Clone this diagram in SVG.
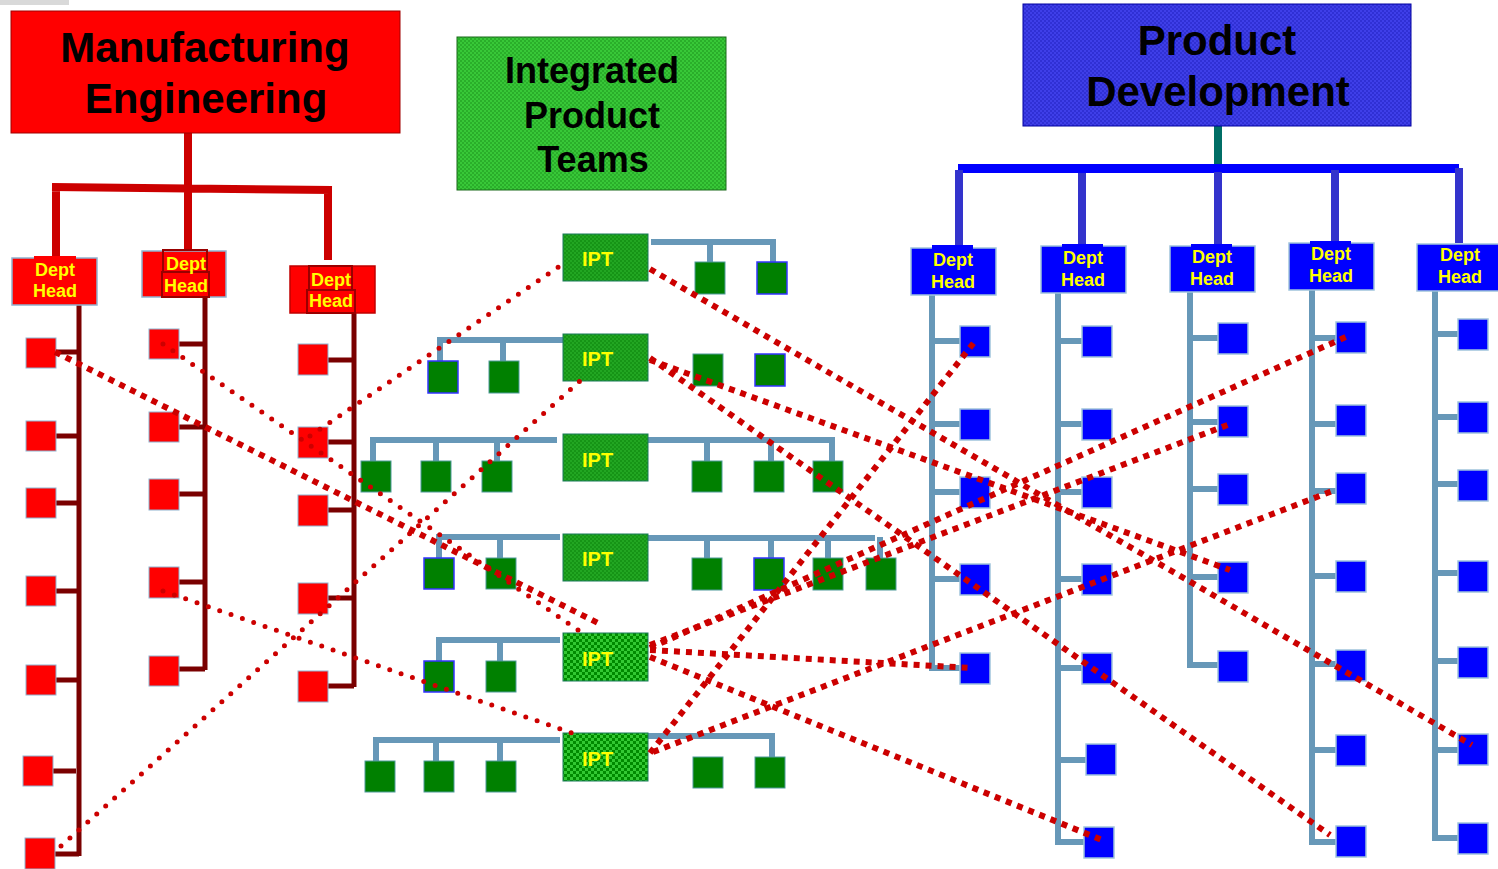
<svg xmlns="http://www.w3.org/2000/svg" width="1498" height="869" viewBox="0 0 1498 869">
  <defs>
    <style>
      text { font-family: "Liberation Sans", Arial, sans-serif; font-weight: bold; }
      .title { font-size: 42px; fill: #000; text-anchor: middle; }
      .title2 { font-size: 36px; fill: #000; text-anchor: middle; }
      .dh { font-size: 18px; fill: #ffff00; text-anchor: middle; }
      .ipt-t { font-size: 20px; fill: #ffff00; }
      .me-link { stroke: #cc0000; stroke-width: 8; fill: none; }
      .red-tree { stroke: #7a0000; stroke-width: 5; fill: none; }
      .steel { stroke: #6798b8; stroke-width: 6; fill: none; }
      .pd-link { stroke: #3333cc; stroke-width: 8; fill: none; }
      .dotR { stroke: #cc0000; stroke-width: 5; stroke-linecap: round; stroke-dasharray: 0 12; fill: none; }
      .dotS { stroke: #cc0000; stroke-width: 6; stroke-dasharray: 6 6; fill: none; }
      .rbox { fill: #ff0000; stroke: #8fb3d0; stroke-width: 1; }
      .rdh { fill: #ff0000; stroke: #8fb3d0; stroke-width: 1.5; }
      .rin { fill: none; stroke: #990000; stroke-width: 2; }
      .gbox { fill: #008000; stroke: #4f9a9a; stroke-width: 1; }
      .gbox.b { stroke: #3333ff; stroke-width: 1.5; }
      .bbox { fill: #0000ff; stroke: #a0c4dc; stroke-width: 1.5; }
      .bdh { fill: #0000ff; stroke: #a0c4dc; stroke-width: 1.5; }
      .ipt { fill: url(#iptFine); stroke: #1a7a5a; stroke-width: 1; }
      .ipt.c { fill: url(#iptChk); }
    </style>
    <pattern id="hdrGreen" width="4" height="4" patternUnits="userSpaceOnUse">
      <rect width="4" height="4" fill="#38c838"/>
      <rect width="2" height="2" fill="#2aae2a"/>
      <rect x="2" y="2" width="2" height="2" fill="#2aae2a"/>
    </pattern>
    <pattern id="hdrBlue" width="4" height="4" patternUnits="userSpaceOnUse">
      <rect width="4" height="4" fill="#3f3fe8"/>
      <rect width="2" height="2" fill="#3030d4"/>
      <rect x="2" y="2" width="2" height="2" fill="#3030d4"/>
    </pattern>
    <pattern id="iptFine" width="4" height="4" patternUnits="userSpaceOnUse">
      <rect width="4" height="4" fill="#22a622"/>
      <rect width="2" height="2" fill="#169416"/>
      <rect x="2" y="2" width="2" height="2" fill="#169416"/>
    </pattern>
    <pattern id="iptChk" width="6" height="6" patternUnits="userSpaceOnUse">
      <rect width="6" height="6" fill="#33c833"/>
      <rect width="3" height="3" fill="#008a00"/>
      <rect x="3" y="3" width="3" height="3" fill="#008a00"/>
    </pattern>
  </defs>

  <rect width="1498" height="869" fill="#ffffff"/>
  <rect x="0" y="0" width="69" height="5" fill="#d9d9d9"/>

  <!-- tree connectors -->
  <g id="tree-connectors">
    <!-- Manufacturing Engineering to its dept heads -->
    <path class="me-link" d="M188,133 V187 M52,187 L332,190 M56,187 V259 M188,187 V251 M328,190 V260"/>
    <!-- red department columns -->
    <path class="red-tree" d="M79,305 V856 M56,352 H79 M56,436 H79 M56,503 H79 M56,591 H79 M56,680 H79 M52,771 H76 M54,854 H79"/>
    <path class="red-tree" d="M205,297 V670 M178,344 H205 M178,427 H205 M178,494 H205 M178,582 H205 M178,669 H205"/>
    <path class="red-tree" d="M354,313 V687 M328,360 H354 M328,442 H354 M328,510 H354 M328,598 H354 M328,686 H354"/>

    <!-- Product Development to its dept heads -->
    <line x1="1218" y1="126" x2="1218" y2="166" stroke="#006e66" stroke-width="8"/>
    <rect x="958" y="164" width="501" height="9" fill="#0000ff"/>
    <path class="pd-link" d="M959,170 V246 M1082,173 V246 M1218,172 V246 M1335,170 V242 M1459,168 V243"/>

    <!-- blue department columns -->
    <path class="steel" d="M932,295 V671 M932,341 H960 M932,424 H960 M932,492 H960 M932,579 H960 M929,668 H960"/>
    <path class="steel" d="M1058,293 V845 M1058,341 H1082 M1058,424 H1082 M1058,492 H1082 M1058,579 H1082 M1058,668 H1082 M1058,760 H1086 M1055,842 H1084"/>
    <path class="steel" d="M1190,292 V668 M1190,338 H1218 M1190,422 H1218 M1190,489 H1218 M1190,577 H1218 M1187,665 H1218"/>
    <path class="steel" d="M1312,290 V845 M1312,338 H1336 M1312,424 H1336 M1312,491 H1336 M1312,576 H1336 M1312,664 H1336 M1312,750 H1336 M1309,842 H1336"/>
    <path class="steel" d="M1435,290 V841 M1435,334 H1458 M1435,417 H1458 M1435,484 H1458 M1435,573 H1458 M1435,661 H1458 M1435,750 H1458 M1432,838 H1458"/>

    <!-- IPT member trees -->
    <path class="steel" d="M651,242 H773 V262 M710,242 V262"/>
    <path class="steel" d="M563,340 H440 V361 M503,340 V361"/>
    <path class="steel" d="M557,440 H373 V461 M436,440 V461 M497,440 V461"/>
    <path class="steel" d="M648,440 H832 V461 M707,440 V461 M771,440 V461"/>
    <path class="steel" d="M560,537 H439 V558 M500,537 V558"/>
    <path class="steel" d="M648,538 H875 M880,537 V558 M707,538 V558 M771,538 V558 M828,538 V558"/>
    <path class="steel" d="M560,640 H439 V661 M500,640 V661"/>
    <path class="steel" d="M560,740 H376 V761 M436,740 V761 M500,740 V761"/>
    <path class="steel" d="M648,736 H772 V757"/>
  </g>

  <!-- top-level organisations -->
  <g id="manufacturing-engineering">
    <rect x="11" y="11" width="389" height="122" fill="#ff0000" stroke="#a00000" stroke-width="1"/>
    <text class="title" x="205" y="62">Manufacturing</text>
    <text class="title" x="206" y="113">Engineering</text>
  </g>
  <g id="integrated-product-teams">
    <rect x="457" y="37" width="269" height="153" fill="url(#hdrGreen)" stroke="#1a6a1a" stroke-width="1"/>
    <text class="title2" x="592" y="83">Integrated</text>
    <text class="title2" x="592" y="128">Product</text>
    <text class="title2" x="593" y="172">Teams</text>
  </g>
  <g id="product-development">
    <rect x="1023" y="4" width="388" height="122" fill="url(#hdrBlue)" stroke="#0000a0" stroke-width="1"/>
    <text class="title" x="1217" y="55">Product</text>
    <text class="title" x="1218" y="106">Development</text>
  </g>

  <!-- manufacturing dept heads -->
  <g id="me-head-1">
    <rect class="rdh" x="12" y="258" width="85" height="47"/>
    <rect x="34" y="256" width="42" height="3" fill="#ff0000"/>
    <text class="dh" x="55" y="276">Dept</text>
    <text class="dh" x="55" y="297">Head</text>
  </g>
  <g id="me-head-2">
    <rect class="rdh" x="142" y="251" width="84" height="46"/>
    <rect class="rin" x="163" y="250" width="44" height="22"/>
    <rect class="rin" x="162" y="272" width="47" height="25"/>
    <text class="dh" x="186" y="270">Dept</text>
    <text class="dh" x="186" y="292">Head</text>
  </g>
  <g id="me-head-3">
    <rect x="290" y="266" width="85" height="47" fill="#ff0000" stroke="#c00000" stroke-width="1.5"/>
    <rect class="rin" x="309" y="266" width="43" height="24"/>
    <rect class="rin" x="307" y="290" width="48" height="23"/>
    <text class="dh" x="331" y="286">Dept</text>
    <text class="dh" x="331" y="307">Head</text>
  </g>

  <!-- manufacturing staff -->
  <g id="me-staff-1">
    <rect class="rbox" x="26" y="338" width="30" height="30"/>
    <rect class="rbox" x="26" y="421" width="30" height="30"/>
    <rect class="rbox" x="26" y="488" width="30" height="30"/>
    <rect class="rbox" x="26" y="576" width="30" height="30"/>
    <rect class="rbox" x="26" y="665" width="30" height="30"/>
    <rect class="rbox" x="23" y="756" width="30" height="30"/>
    <rect class="rbox" x="25" y="838" width="30" height="31"/>
  </g>
  <g id="me-staff-2">
    <rect class="rbox" x="149" y="329" width="30" height="30"/>
    <rect class="rbox" x="149" y="412" width="30" height="30"/>
    <rect class="rbox" x="149" y="479" width="30" height="31"/>
    <rect class="rbox" x="149" y="567" width="30" height="31"/>
    <rect class="rbox" x="149" y="656" width="30" height="30"/>
  </g>
  <g id="me-staff-3">
    <rect class="rbox" x="298" y="344" width="30" height="31"/>
    <rect class="rbox" x="298" y="427" width="30" height="31"/>
    <rect class="rbox" x="298" y="495" width="30" height="31"/>
    <rect class="rbox" x="298" y="583" width="30" height="31"/>
    <rect class="rbox" x="298" y="671" width="30" height="31"/>
  </g>

  <!-- integrated product teams -->
  <g id="ipt-1">
    <rect class="ipt" x="563" y="234" width="85" height="47"/>
    <text class="ipt-t" x="582" y="266">IPT</text>
    <rect class="gbox" x="695" y="262" width="30" height="32"/>
    <rect class="gbox b" x="757" y="262" width="30" height="32"/>
  </g>
  <g id="ipt-2">
    <rect class="ipt" x="563" y="334" width="85" height="47"/>
    <text class="ipt-t" x="582" y="366">IPT</text>
    <rect class="gbox b" x="428" y="361" width="30" height="32"/>
    <rect class="gbox" x="489" y="361" width="30" height="32"/>
    <rect class="gbox" x="693" y="354" width="30" height="32"/>
    <rect class="gbox b" x="755" y="354" width="30" height="32"/>
  </g>
  <g id="ipt-3">
    <rect class="ipt" x="563" y="434" width="85" height="47"/>
    <text class="ipt-t" x="582" y="467">IPT</text>
    <rect class="gbox" x="361" y="461" width="30" height="31"/>
    <rect class="gbox" x="421" y="461" width="30" height="31"/>
    <rect class="gbox" x="482" y="461" width="30" height="31"/>
    <rect class="gbox" x="692" y="461" width="30" height="31"/>
    <rect class="gbox" x="754" y="461" width="30" height="31"/>
    <rect class="gbox" x="813" y="461" width="30" height="31"/>
  </g>
  <g id="ipt-4">
    <rect class="ipt" x="563" y="534" width="85" height="47"/>
    <text class="ipt-t" x="582" y="566">IPT</text>
    <rect class="gbox b" x="424" y="558" width="30" height="31"/>
    <rect class="gbox" x="486" y="558" width="30" height="31"/>
    <rect class="gbox" x="692" y="558" width="30" height="32"/>
    <rect class="gbox b" x="754" y="558" width="30" height="32"/>
    <rect class="gbox" x="813" y="558" width="30" height="32"/>
    <rect class="gbox" x="866" y="558" width="30" height="32"/>
  </g>
  <g id="ipt-5">
    <rect class="ipt c" x="563" y="633" width="85" height="48"/>
    <text class="ipt-t" x="582" y="666">IPT</text>
    <rect class="gbox b" x="424" y="661" width="30" height="31"/>
    <rect class="gbox" x="486" y="661" width="30" height="31"/>
  </g>
  <g id="ipt-6">
    <rect class="ipt c" x="563" y="733" width="85" height="48"/>
    <text class="ipt-t" x="582" y="766">IPT</text>
    <rect class="gbox" x="365" y="761" width="30" height="31"/>
    <rect class="gbox" x="424" y="761" width="30" height="31"/>
    <rect class="gbox" x="486" y="761" width="30" height="31"/>
    <rect class="gbox" x="693" y="757" width="30" height="31"/>
    <rect class="gbox" x="755" y="757" width="30" height="31"/>
  </g>

  <!-- product development dept heads -->
  <g id="pd-head-1">
    <rect class="bdh" x="911" y="248" width="85" height="47"/>
    <rect x="932" y="245" width="41" height="4" fill="#0000ff"/>
    <text class="dh" x="953" y="266">Dept</text>
    <text class="dh" x="953" y="288">Head</text>
  </g>
  <g id="pd-head-2">
    <rect class="bdh" x="1041" y="246" width="85" height="47"/>
    <rect x="1062" y="244" width="41" height="3" fill="#0000ff"/>
    <text class="dh" x="1083" y="264">Dept</text>
    <text class="dh" x="1083" y="286">Head</text>
  </g>
  <g id="pd-head-3">
    <rect class="bdh" x="1170" y="246" width="85" height="46"/>
    <rect x="1191" y="244" width="41" height="3" fill="#0000ff"/>
    <text class="dh" x="1212" y="263">Dept</text>
    <text class="dh" x="1212" y="285">Head</text>
  </g>
  <g id="pd-head-4">
    <rect class="bdh" x="1289" y="243" width="85" height="47"/>
    <rect x="1310" y="241" width="41" height="3" fill="#0000ff"/>
    <text class="dh" x="1331" y="260">Dept</text>
    <text class="dh" x="1331" y="282">Head</text>
  </g>
  <g id="pd-head-5">
    <rect class="bdh" x="1417" y="244" width="85" height="47"/>
    <text class="dh" x="1460" y="261">Dept</text>
    <text class="dh" x="1460" y="283">Head</text>
  </g>

  <!-- product development staff -->
  <g id="pd-staff-1">
    <rect class="bbox" x="960" y="326" width="30" height="31"/>
    <rect class="bbox" x="960" y="409" width="30" height="31"/>
    <rect class="bbox" x="960" y="477" width="30" height="31"/>
    <rect class="bbox" x="960" y="564" width="30" height="31"/>
    <rect class="bbox" x="960" y="653" width="30" height="31"/>
  </g>
  <g id="pd-staff-2">
    <rect class="bbox" x="1082" y="326" width="30" height="31"/>
    <rect class="bbox" x="1082" y="409" width="30" height="31"/>
    <rect class="bbox" x="1082" y="477" width="30" height="31"/>
    <rect class="bbox" x="1082" y="564" width="30" height="31"/>
    <rect class="bbox" x="1082" y="653" width="30" height="31"/>
    <rect class="bbox" x="1086" y="744" width="30" height="31"/>
    <rect class="bbox" x="1084" y="827" width="30" height="31"/>
  </g>
  <g id="pd-staff-3">
    <rect class="bbox" x="1218" y="323" width="30" height="31"/>
    <rect class="bbox" x="1218" y="406" width="30" height="31"/>
    <rect class="bbox" x="1218" y="474" width="30" height="31"/>
    <rect class="bbox" x="1218" y="562" width="30" height="31"/>
    <rect class="bbox" x="1218" y="651" width="30" height="31"/>
  </g>
  <g id="pd-staff-4">
    <rect class="bbox" x="1336" y="322" width="30" height="31"/>
    <rect class="bbox" x="1336" y="405" width="30" height="31"/>
    <rect class="bbox" x="1336" y="473" width="30" height="31"/>
    <rect class="bbox" x="1336" y="561" width="30" height="31"/>
    <rect class="bbox" x="1336" y="650" width="30" height="31"/>
    <rect class="bbox" x="1336" y="735" width="30" height="31"/>
    <rect class="bbox" x="1336" y="826" width="30" height="31"/>
  </g>
  <g id="pd-staff-5">
    <rect class="bbox" x="1458" y="319" width="30" height="31"/>
    <rect class="bbox" x="1458" y="402" width="30" height="31"/>
    <rect class="bbox" x="1458" y="470" width="30" height="31"/>
    <rect class="bbox" x="1458" y="561" width="30" height="31"/>
    <rect class="bbox" x="1458" y="647" width="30" height="31"/>
    <rect class="bbox" x="1458" y="734" width="30" height="31"/>
    <rect class="bbox" x="1458" y="823" width="30" height="31"/>
  </g>

  <!-- team membership links -->
  <g id="ipt-links">
    <!-- manufacturing members (round dots) -->
    <line class="dotR" x1="163" y1="344" x2="578" y2="630"/>
    <line class="dotR" x1="310" y1="436" x2="560" y2="266"/>
    <line class="dotR" x1="61" y1="846" x2="580" y2="381"/>
    <line class="dotR" x1="163" y1="591" x2="575" y2="734"/>
    <!-- square-dashed links -->
    <line class="dotS" x1="55" y1="352" x2="602" y2="625"/>
    <line class="dotS" x1="650" y1="269" x2="1472" y2="745"/>
    <line class="dotS" x1="650" y1="358" x2="1330" y2="835"/>
    <line class="dotS" x1="650" y1="360" x2="1230" y2="570"/>
    <line class="dotS" x1="650" y1="753" x2="976" y2="340"/>
    <line class="dotS" x1="653" y1="752" x2="1335" y2="490"/>
    <line class="dotS" x1="650" y1="650" x2="972" y2="668"/>
    <line class="dotS" x1="650" y1="657" x2="1102" y2="840"/>
    <line class="dotS" x1="650" y1="648" x2="1348" y2="336"/>
    <line class="dotS" x1="650" y1="645" x2="1230" y2="424"/>
  </g>
</svg>
